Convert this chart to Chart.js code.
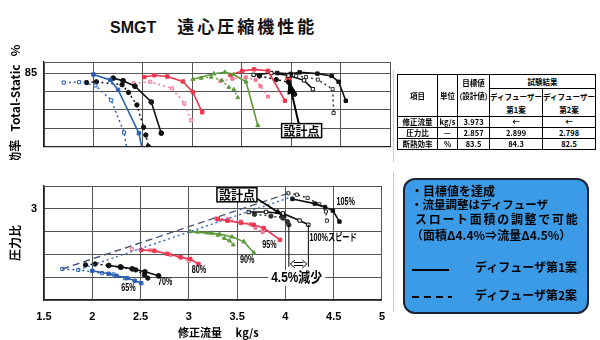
<!DOCTYPE html>
<html>
<head>
<meta charset="utf-8">
<script src="https://cdn.jsdelivr.net/npm/chart.js@4.4.0/dist/chart.umd.min.js"></script>
<style>
  body { margin: 0; background: #fff; }
  #wrap { position: relative; width: 600px; height: 340px; overflow: hidden; background: #fff; }
  canvas { position: absolute; left: 0; }
  #effChart { top: 0; }
  #prChart { top: 170px; }
  #title { position: absolute; left: 110px; top: 13px; white-space: nowrap; color: #111; }
  #title .en { font: bold 16px "Liberation Sans", Arial, sans-serif; }
  #title .jp { font: bold 17px "Noto Sans CJK JP", sans-serif; letter-spacing: 3px; margin-left: 21px; }
  #spec { position: absolute; left: 397px; top: 74px; width: 198px; border-collapse: collapse; table-layout: fixed;
          border: 1.5px solid #000; font: bold 7.5px "Noto Sans CJK JP", sans-serif; text-align: center; color: #000; }
  #spec td { border: 1px solid #000; padding: 0; line-height: 10px; height: 10px; white-space: nowrap; overflow: hidden; }
  #spec .hd td { line-height: 13px; }
  #spec td.top { vertical-align: top; padding-top: 1px; }
  #note { position: absolute; left: 403px; top: 178px; width: 182px; height: 132px; background: #3c9be6;
          border: 2px solid #1b2233; border-radius: 12px; }
  #note div { position: absolute; white-space: nowrap; font: bold 12px "Noto Sans CJK JP", sans-serif; line-height: 14px; color: #000; }
  #note svg { position: absolute; left: 0; top: 0; }
  .edge { position: absolute; left: 393px; width: 1px; background: #c8c8c8; }
</style>
</head>
<body>
<div id="wrap">
  <div id="title"><span class="en">SMGT</span><span class="jp">遠心圧縮機性能</span></div>
  <canvas id="effChart" width="395" height="160"></canvas>
  <canvas id="prChart" width="395" height="170"></canvas>
  <div class="edge" style="top:70px;height:92px"></div>
  <div class="edge" style="top:172px;height:140px"></div>

  <table id="spec">
    <colgroup><col style="width:40px"><col style="width:20px"><col style="width:32px"><col style="width:53px"><col style="width:53px"></colgroup>
    <tr class="hd"><td rowspan="2">項目</td><td rowspan="2">単位</td><td rowspan="2" class="top">目標値<br>(設計値)</td><td colspan="2" style="height:10px">試験結果</td></tr>
    <tr class="hd"><td style="height:27px">ディフューザー<br>第1案</td><td>ディフューザー<br>第2案</td></tr>
    <tr><td>修正流量</td><td>kg/s</td><td>3.973</td><td>←</td><td>←</td></tr>
    <tr><td>圧力比</td><td>—</td><td>2.857</td><td>2.899</td><td>2.798</td></tr>
    <tr><td>断熱効率</td><td>%</td><td>83.5</td><td>84.3</td><td>82.5</td></tr>
  </table>

  <div id="note">
    <div style="left:6px;top:4px">・目標値を達成</div>
    <div style="left:6px;top:17px;font-size:11.5px">・流量調整はディフューザ</div>
    <div style="left:10px;top:32px;letter-spacing:1.7px">スロート面積の調整で可能</div>
    <div style="left:6px;top:48px">（面積Δ4.4%⇒流量Δ4.5%）</div>
    <div style="left:70px;top:80px">ディフューザ第1案</div>
    <div style="left:70px;top:108px">ディフューザ第2案</div>
    <svg width="182" height="132">
      <line x1="7" y1="90" x2="44" y2="90" stroke="#000" stroke-width="2"/>
      <line x1="7" y1="117" x2="47" y2="117" stroke="#000" stroke-width="2" stroke-dasharray="7 5"/>
    </svg>
  </div>
</div>

<script>
// efficiency curves (flow kg/s, efficiency %), a = diffuser 1, b = diffuser 2
const e65aFlow = [2.00, 2.17, 2.25, 2.46, 2.495];
const e65aEff = [84.6, 83.1, 80.4, 68.6, 64.0];
const e65bFlow = [1.70, 1.855, 2.02, 2.18, 2.31, 2.34];
const e65bEff = [82.4, 82.5, 81.6, 77.6, 68.8, 64.0];
const e70aFlow = [2.20, 2.30, 2.42, 2.585, 2.686];
const e70aEff = [83.6, 82.9, 81.4, 77.1, 68.6];
const e70bFlow = [1.93, 2.03, 2.29, 2.355, 2.44, 2.507, 2.53, 2.555];
const e70bEff = [82.4, 82.6, 81.8, 79.7, 76.3, 70.2, 68.1, 65.0];
const e80aFlow = [2.514, 2.616, 2.747, 2.905, 3.006, 3.10];
const e80aEff = [83.9, 84.4, 84.05, 82.7, 79.8, 74.3];
const e80bFlow = [2.406, 2.575, 2.795, 2.92, 2.99];
const e80bEff = [82.2, 82.6, 80.8, 76.7, 72.1];
const e90aFlow = [3.006, 3.217, 3.33, 3.417, 3.544, 3.663];
const e90aEff = [83.3, 84.8, 85.2, 84.6, 82.6, 70.7];
const e90bFlow = [3.09, 3.19, 3.30, 3.37, 3.42, 3.46];
const e90bEff = [83.6, 83.9, 83.0, 81.1, 80.5, 78.3];
const e95aFlow = [3.386, 3.505, 3.625, 3.765, 3.937];
const e95aEff = [84.45, 85.55, 86.0, 85.6, 77.45];
const e95bFlow = [3.285, 3.407, 3.54, 3.64, 3.69, 3.765];
const e95bEff = [82.8, 83.45, 83.8, 83.1, 81.4, 78.6];
const e100aFlow = [3.62, 3.80, 3.973, 4.13, 4.22];
const e100aEff = [84.5, 85.0, 84.3, 83.0, 80.6];
const e100bFlow = [3.68, 3.85, 3.973, 4.036];
const e100bEff = [84.2, 83.2, 82.5, 79.2];
const e105aFlow = [3.86, 3.995, 4.086, 4.266, 4.41, 4.48, 4.553];
const e105aEff = [85.0, 84.76, 85.17, 84.83, 84.2, 82.6, 77.45];
const e105bFlow = [4.05, 4.15, 4.27, 4.42, 4.43];
const e105bEff = [84.2, 83.9, 83.2, 80.6, 74.1];

// pressure ratio curves (flow kg/s, pressure ratio)
const p65aFlow = [2.00, 2.17, 2.25, 2.36, 2.44, 2.507];
const p65aPr = [1.64, 1.575, 1.53, 1.48, 1.42, 1.37];
const p65bFlow = [1.69, 1.855, 2.10, 2.22, 2.34];
const p65bPr = [1.68, 1.66, 1.59, 1.56, 1.48];
const p70aFlow = [2.17, 2.29, 2.413, 2.545, 2.687];
const p70aPr = [1.757, 1.724, 1.684, 1.618, 1.53];
const p70bFlow = [1.93, 2.03, 2.30, 2.45, 2.54, 2.575];
const p70bPr = [1.77, 1.79, 1.72, 1.66, 1.55, 1.48];
const p80aFlow = [2.507, 2.643, 2.778, 2.913, 3.014, 3.10];
const p80aPr = [2.10, 2.08, 2.013, 1.94, 1.90, 1.79];
const p80bFlow = [2.41, 2.60, 2.81, 2.92, 3.00];
const p80bPr = [2.12, 2.09, 1.99, 1.93, 1.86];
const p90aFlow = [3.014, 3.234, 3.318, 3.447, 3.569, 3.675];
const p90aPr = [2.50, 2.467, 2.445, 2.386, 2.28, 2.03];
const p90bFlow = [3.09, 3.19, 3.30, 3.37, 3.42, 3.46];
const p90bPr = [2.49, 2.47, 2.42, 2.35, 2.30, 2.21];
const p95aFlow = [3.30, 3.40, 3.54, 3.67, 3.775, 3.944];
const p95aPr = [2.77, 2.74, 2.69, 2.65, 2.577, 2.32];
const p95bFlow = [3.285, 3.407, 3.54, 3.64, 3.69, 3.765];
const p95bPr = [2.79, 2.77, 2.72, 2.66, 2.58, 2.49];
const p100aFlow = [3.62, 3.80, 3.973, 4.147, 4.238];
const p100aPr = [2.93, 2.93, 2.899, 2.743, 2.65];
const p100bFlow = [3.68, 3.85, 3.973, 4.02, 4.036];
const p100bPr = [2.88, 2.84, 2.798, 2.72, 2.65];
const p105aFlow = [4.073, 4.304, 4.41, 4.492, 4.56];
const p105aPr = [3.215, 3.114, 3.037, 2.96, 2.72];
const p105bFlow = [4.03, 4.12, 4.23, 4.35, 4.42, 4.43];
const p105bPr = [3.34, 3.31, 3.24, 3.10, 2.94, 2.74];
const surgeAFlow = [1.69, 4.03];
const surgeAPr = [1.68, 3.34];
const surgeBFlow = [1.855, 4.096];
const surgeBPr = [1.66, 3.285];

// design target
const targetFlow = [3.973];
const targetEff = [83.5];
const targetPr = [2.857];

// axis ticks
const flowTicks = [1.5, 2, 2.5, 3, 3.5, 4, 4.5, 5];
const speedNames = ['105%', '100%スピード', '95%', '90%', '80%', '70%', '65%'];

const BLUE = '#2b5fb5', BLACK = '#111', RED = '#f0364e', PINK = '#f27d94', GREEN = '#5f9b3e';
const SANS = '"Liberation Sans", Arial, sans-serif';
const JP = '"Noto Sans CJK JP", sans-serif';

function pts(xs, ys) {
  return xs.map((x, i) => ({ x: x, y: ys[i] }));
}

function solid(xs, ys, color, shape, fill) {
  return {
    data: pts(xs, ys), showLine: true, borderColor: color, backgroundColor: fill || color,
    borderWidth: 1.6, pointRadius: 2.4, pointStyle: shape, pointBorderWidth: 1
  };
}

function dotted(xs, ys, color, shape, fill) {
  return {
    data: pts(xs, ys), showLine: true, borderColor: color, backgroundColor: fill || color,
    borderWidth: 1.5, borderDash: [2, 3], pointRadius: 2.2, pointStyle: shape, pointBorderWidth: 1
  };
}

function dashedLine(xs, ys, color, dash) {
  return { data: pts(xs, ys), showLine: true, borderColor: color, borderWidth: 1.4, borderDash: dash, pointRadius: 0 };
}

function drawArrow(ctx, x1, y1, x2, y2, head, half) {
  const a = Math.atan2(y2 - y1, x2 - x1);
  const c = Math.cos(a), s = Math.sin(a);
  ctx.beginPath();
  ctx.moveTo(x1, y1);
  ctx.lineTo(x2 - c * head * 0.7, y2 - s * head * 0.7);
  ctx.stroke();
  ctx.beginPath();
  ctx.moveTo(x2, y2);
  ctx.lineTo(x2 - head * c + half * s, y2 - head * s - half * c);
  ctx.lineTo(x2 - head * c - half * s, y2 - head * s + half * c);
  ctx.closePath();
  ctx.fill();
}

// condensed text: squeeze horizontally around the anchor
function squeezed(ctx, text, x, y, sx, align) {
  ctx.save();
  ctx.translate(x, y);
  ctx.scale(sx, 1);
  ctx.textAlign = align;
  ctx.fillText(text, 0, 0);
  ctx.restore();
}

// text labels, the design point call-out and the choke flow gap
const marks = {
  id: 'marks',
  afterDatasetsDraw(chart, args, opts) {
    const ctx = chart.ctx;
    const px = v => chart.scales.x.getPixelForValue(v);
    const py = v => chart.scales.y.getPixelForValue(v);
    ctx.save();
    ctx.fillStyle = '#000';
    ctx.strokeStyle = '#000';
    ctx.textBaseline = 'middle';

    (opts.labels || []).forEach(l => {
      ctx.font = 'bold 10px ' + SANS + ', ' + JP;
      squeezed(ctx, l.text, px(l.x), py(l.y), 0.72, 'left');
    });

    const c = opts.callout;
    if (c) {
      ctx.lineWidth = c.lineWidth;
      drawArrow(ctx, px(c.from[0]), py(c.from[1]), px(c.to[0]), py(c.to[1]), c.head, c.half);
      ctx.font = 'bold 12px ' + JP;
      const w = ctx.measureText('設計点').width;
      const bx = px(c.box[0]), by = py(c.box[1]);
      ctx.fillStyle = '#fff';
      ctx.fillRect(bx - w / 2 - 2, by - 7, w + 4, 14);
      ctx.lineWidth = 1.5;
      ctx.strokeRect(bx - w / 2 - 2, by - 7, w + 4, 14);
      ctx.fillStyle = '#000';
      ctx.textAlign = 'center';
      ctx.fillText('設計点', bx, by + 0.5);
    }

    const g = opts.gap;
    if (g) {
      const xl = px(g.left), xr = px(g.right), yb = py(g.bottom), ya = py(g.arrowAt);
      ctx.lineWidth = 1;
      ctx.beginPath();
      ctx.moveTo(xl, py(g.top)); ctx.lineTo(xl, yb);
      ctx.moveTo(xr, py(g.top)); ctx.lineTo(xr, yb);
      ctx.moveTo(xl + 5, ya - 1.5); ctx.lineTo(xr - 5, ya - 1.5);
      ctx.moveTo(xl + 5, ya + 1.5); ctx.lineTo(xr - 5, ya + 1.5);
      ctx.moveTo(xl + 6, ya - 4); ctx.lineTo(xl + 1.5, ya); ctx.lineTo(xl + 6, ya + 4);
      ctx.moveTo(xr - 6, ya - 4); ctx.lineTo(xr - 1.5, ya); ctx.lineTo(xr - 6, ya + 4);
      ctx.stroke();
      ctx.font = 'bold 14px ' + SANS + ', ' + JP;
      const tw = ctx.measureText(g.text).width * 0.85;
      const tx = px(g.textAt[0]), ty = py(g.textAt[1]);
      ctx.fillStyle = '#fff';
      ctx.fillRect(tx - tw / 2 - 3, ty - 8, tw + 6, 16);
      ctx.fillStyle = '#000';
      squeezed(ctx, g.text, tx, ty, 0.85, 'center');
    }
    ctx.restore();
  }
};

function xAxis(withLabels) {
  return {
    type: 'linear', min: 1.5, max: 5,
    afterBuildTicks: s => { s.ticks = flowTicks.map(v => ({ value: v })); },
    ticks: {
      display: withLabels, color: '#000', padding: 10, autoSkip: false,
      font: { family: SANS, size: 11, weight: 'bold' }, callback: v => String(v)
    },
    grid: { color: '#555', lineWidth: 1, drawTicks: false },
    border: { color: '#222', width: 1.3 },
    title: {
      display: withLabels, text: '　修正流量　 kg/s', color: '#000',
      font: { family: JP, size: 11, weight: 'bold' }, padding: { top: 0, bottom: 1 }
    },
    afterFit: s => { s.height = withLabels ? 40 : 0; }
  };
}

function yAxis(min, max, step, shown, title) {
  return {
    type: 'linear', min: min, max: max,
    ticks: {
      stepSize: step, color: '#000', padding: 7, autoSkip: false, font: { family: SANS, size: 11, weight: 'bold' },
      callback: v => (Math.abs(v - shown) < 1e-6 ? String(shown) : '')
    },
    grid: { color: '#555', lineWidth: 1, drawTicks: false },
    border: { color: '#222', width: 1.3 },
    title: { display: true, text: title, color: '#000', font: { family: JP, size: 12, weight: 'bold' }, padding: { top: 8 } },
    afterFit: s => { s.width = 44; }
  };
}

const baseOptions = {
  responsive: false,
  animation: false,
  plugins: { legend: { display: false }, tooltip: { enabled: false } }
};

new Chart(document.getElementById('effChart'), {
  type: 'scatter',
  data: {
    datasets: [
      solid(e65aFlow, e65aEff, BLUE, 'rect'),
      dotted(e65bFlow, e65bEff, BLUE, 'rect', '#fff'),
      solid(e70aFlow, e70aEff, BLACK, 'circle'),
      dotted(e70bFlow, e70bEff, BLACK, 'circle'),
      solid(e80aFlow, e80aEff, RED, 'rect'),
      dotted(e80bFlow, e80bEff, PINK, 'rect', '#fbd3dc'),
      solid(e90aFlow, e90aEff, GREEN, 'triangle'),
      dotted(e90bFlow, e90bEff, GREEN, 'triangle'),
      solid(e95aFlow, e95aEff, RED, 'rect'),
      dotted(e95bFlow, e95bEff, PINK, 'rect'),
      solid(e100aFlow, e100aEff, BLACK, 'rect', '#fff'),
      dotted(e100bFlow, e100bEff, BLACK, 'circle'),
      solid(e105aFlow, e105aEff, BLACK, 'rect'),
      dotted(e105bFlow, e105bEff, '#333', 'rect', '#fff'),
      { data: pts(targetFlow, targetEff), pointRadius: 3, backgroundColor: RED, borderColor: RED }
    ]
  },
  options: Object.assign({}, baseOptions, {
    layout: { padding: { top: 62, right: 5, bottom: 1, left: 0 } },
    scales: {
      x: xAxis(false),
      y: yAxis(65, 88, 5, 85, '効率   Total-Static   %')
    },
    plugins: Object.assign({}, baseOptions.plugins, {
      marks: {
        callout: { box: [4.106, 69.3], from: [4.08, 70.9], to: [3.975, 83.1], head: 14, half: 4.5, lineWidth: 2 }
      }
    })
  }),
  plugins: [marks]
});

new Chart(document.getElementById('prChart'), {
  type: 'scatter',
  data: {
    datasets: [
      dashedLine(surgeAFlow, surgeAPr, '#4a5a78', [7, 4]),
      dashedLine(surgeBFlow, surgeBPr, '#2f6bc8', [2, 3]),
      solid(p65aFlow, p65aPr, BLUE, 'rect'),
      dotted(p65bFlow, p65bPr, BLUE, 'rect', '#fff'),
      solid(p70aFlow, p70aPr, BLACK, 'circle'),
      dotted(p70bFlow, p70bPr, BLACK, 'circle'),
      solid(p80aFlow, p80aPr, RED, 'rect'),
      dotted(p80bFlow, p80bPr, PINK, 'rect', '#fbd3dc'),
      solid(p90aFlow, p90aPr, GREEN, 'triangle'),
      dotted(p90bFlow, p90bPr, GREEN, 'triangle'),
      solid(p95aFlow, p95aPr, RED, 'rect'),
      dotted(p95bFlow, p95bPr, PINK, 'rect'),
      solid(p100aFlow, p100aPr, BLACK, 'rect', '#fff'),
      dotted(p100bFlow, p100bPr, '#333', 'circle'),
      solid(p105aFlow, p105aPr, BLACK, 'rect'),
      dotted(p105bFlow, p105bPr, '#333', 'rect', '#fff'),
      { data: pts(targetFlow, targetPr), pointRadius: 4, pointStyle: 'triangle', backgroundColor: BLACK, borderColor: BLACK }
    ]
  },
  options: Object.assign({}, baseOptions, {
    layout: { padding: { top: 16, right: 5, bottom: 0, left: 0 } },
    scales: {
      x: xAxis(true),
      y: yAxis(1, 3.5, 0.5, 3, '圧力比')
    },
    plugins: Object.assign({}, baseOptions.plugins, {
      marks: {
        labels: [
          { text: speedNames[0], x: 4.53, y: 3.15 },
          { text: speedNames[1], x: 4.25, y: 2.36 },
          { text: speedNames[2], x: 3.76, y: 2.21 },
          { text: speedNames[3], x: 3.53, y: 1.87 },
          { text: speedNames[4], x: 3.03, y: 1.66 },
          { text: speedNames[5], x: 2.68, y: 1.39 },
          { text: speedNames[6], x: 2.30, y: 1.26 }
        ],
        callout: { box: [3.498, 3.307], from: [3.708, 3.22], to: [3.973, 2.857], head: 8, half: 3, lineWidth: 1.6 },
        gap: { left: 4.036, right: 4.238, top: 2.65, bottom: 1.73, arrowAt: 1.79, text: '4.5%減少', textAt: [4.117, 1.487] }
      }
    })
  }),
  plugins: [marks]
});
</script>
</body>
</html>
